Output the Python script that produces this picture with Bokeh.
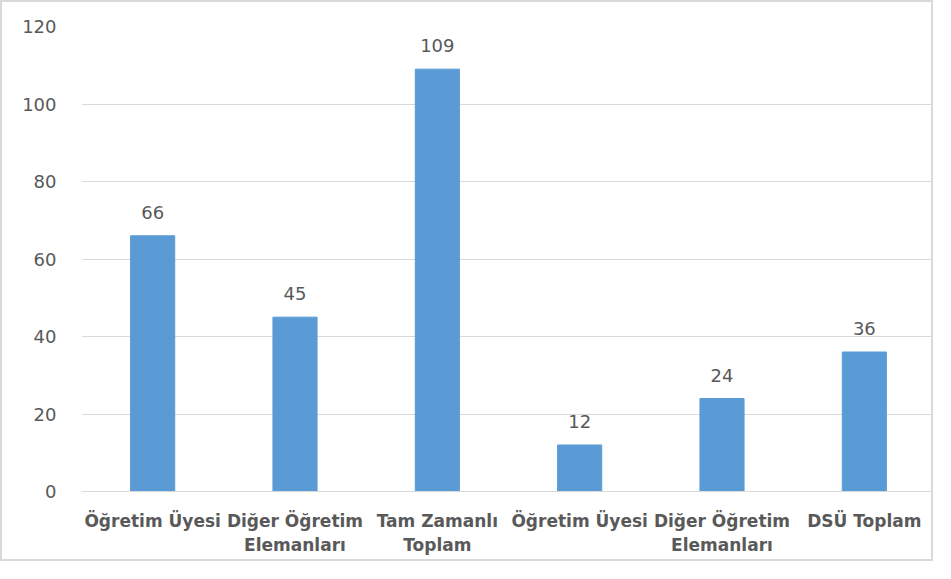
from bokeh.plotting import figure
from bokeh.models import ColumnDataSource, FixedTicker, Range1d, LabelSet
from bokeh.core.properties import value
from bokeh.embed import file_html
from bokeh.resources import INLINE

categories = ["Öğretim Üyesi", "Diğer Öğretim\nElemanları", "Tam Zamanlı\nToplam",
              "Öğretim Üyesi", "Diğer Öğretim\nElemanları", "DSÜ Toplam"]
values = [66, 45, 109, 12, 24, 36]
y_ticks = [0, 20, 40, 60, 80, 100, 120]

xs = list(range(1, len(values) + 1))
src = ColumnDataSource(dict(x=xs, top=values, label=[str(v) for v in values]))

FONT = "DejaVu Sans"

p = figure(width=933, height=561, output_backend="svg", toolbar_location=None,
           x_range=Range1d(0.5, 6.5), y_range=Range1d(0, 120),
           min_border_left=79, min_border_right=0, min_border_top=24, min_border_bottom=72)
p.styles = {"border": "2px solid #d9d9d9"}
p.outline_line_color = None
p.background_fill_color = "white"

p.vbar(x="x", top="top", width=0.31, source=src, color="#5b9bd5")

labels = LabelSet(x="x", y="top", text="label", source=src, text_align="center",
                  text_baseline="alphabetic", y_offset=17, text_font=value(FONT),
                  text_font_size="18px", text_color="#595959")
p.add_layout(labels)

p.xaxis.ticker = FixedTicker(ticks=xs)
p.xaxis.major_label_overrides = {i + 1: c for i, c in enumerate(categories)}
p.xaxis.major_tick_line_color = None
p.xaxis.minor_tick_line_color = None
p.xaxis.axis_line_color = "#d9d9d9"
p.xaxis.major_label_text_font = FONT
p.xaxis.major_label_text_font_size = "17px"
p.xaxis.major_label_text_font_style = "bold"
p.xaxis.major_label_text_color = "#595959"
p.xaxis.major_label_standoff = 13

p.yaxis.ticker = FixedTicker(ticks=y_ticks)
p.yaxis.axis_line_color = None
p.yaxis.major_tick_line_color = None
p.yaxis.minor_tick_line_color = None
p.yaxis.major_label_text_font = FONT
p.yaxis.major_label_text_font_size = "18px"
p.yaxis.major_label_text_color = "#595959"
p.yaxis.major_label_standoff = 19

p.xgrid.grid_line_color = None
p.ygrid.ticker = FixedTicker(ticks=y_ticks)
p.ygrid.grid_line_color = "#d9d9d9"

open("out.html", "w").write(file_html(p, INLINE))
